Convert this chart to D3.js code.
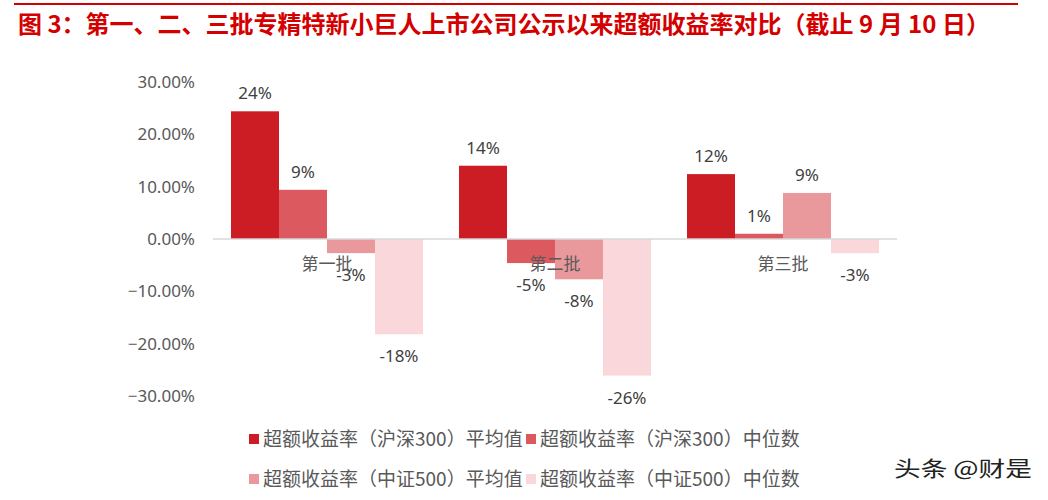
<!DOCTYPE html>
<html>
<head>
<meta charset="utf-8">
<script src="https://cdn.jsdelivr.net/npm/d3@7"></script>
<style>
  body { margin: 0; background: #fff; }
  svg { display: block; }
</style>
</head>
<body>
<svg id="chart" width="1048" height="500"></svg>
<script>
// batches and series
const batches = ['第一批', '第二批', '第三批']
const series = [
    '超额收益率（沪深300）平均值',
    '超额收益率（沪深300）中位数',
    '超额收益率（中证500）平均值',
    '超额收益率（中证500）中位数'
]
// values in %, one array per series (batch order)
const hs300_mean = [24.4, 14.0, 12.4]
const hs300_median = [9.4, -4.6, 1.0]
const zz500_mean = [-2.7, -7.7, 8.8]
const zz500_median = [-18.2, -26.1, -2.7]
const y_ticks = [30, 20, 10, 0, -10, -20, -30]

const colors = ['#cc1d24', '#dc5a5f', '#e9999b', '#fad7da']
const title = '图 3：第一、二、三批专精特新小巨人上市公司公示以来超额收益率对比（截止 9 月 10 日）'

const all_series = [hs300_mean, hs300_median, zz500_mean, zz500_median]
const svg = d3.select('#chart')
const font = '"Noto Sans", "Noto Sans CJK SC", sans-serif'
const cjk = '"Noto Sans CJK SC", sans-serif'

// header
svg.append('line')
    .attr('x1', 14).attr('x2', 1018).attr('y1', 4).attr('y2', 4)
    .attr('stroke', '#d00000').attr('stroke-width', 2)
svg.append('text')
    .attr('x', 18).attr('y', 33)
    .attr('font-family', cjk)
    .attr('font-size', 24).attr('font-weight', 'bold')
    .attr('fill', '#d40000')
    .text(title)

const x0 = d3.scaleBand().domain(batches).range([213, 897])
    .paddingInner(0.158).paddingOuter(0.079)
const x1 = d3.scaleBand().domain(d3.range(series.length)).range([0, x0.bandwidth()])
const y = d3.scaleLinear().domain([-30, 30]).range([396, 82])

// y axis labels (no axis line)
const yAxis = d3.axisLeft(y).tickValues(y_ticks).tickSize(0).tickPadding(0)
    .tickFormat(d => d3.format('.2f')(d) + '%')
const yg = svg.append('g').attr('transform', 'translate(195,0)').call(yAxis)
yg.select('.domain').remove()
yg.selectAll('text')
    .attr('font-family', font).attr('font-size', 17).attr('fill', '#595959')

// bars
const rows = batches.map((b, bi) => all_series.map((s, si) => ({ batch: b, si, v: s[bi] })))
const groups = svg.append('g').selectAll('g').data(rows).enter().append('g')
    .attr('transform', (d, i) => 'translate(' + x0(batches[i]) + ',0)')

groups.selectAll('rect').data(d => d).enter().append('rect')
    .attr('x', d => x1(d.si))
    .attr('width', x1.bandwidth())
    .attr('y', d => y(Math.max(0, d.v)))
    .attr('height', d => Math.abs(y(d.v) - y(0)))
    .attr('fill', d => colors[d.si])

// zero line
svg.append('line')
    .attr('x1', 213).attr('x2', 897).attr('y1', y(0)).attr('y2', y(0))
    .attr('stroke', '#d9d9d9').attr('stroke-width', 1.5)

// category labels
svg.append('g').selectAll('text').data(batches).enter().append('text')
    .attr('x', d => x0(d) + x0.bandwidth() / 2)
    .attr('y', y(0) + 31)
    .attr('text-anchor', 'middle')
    .attr('font-family', cjk)
    .attr('font-size', 17).attr('fill', '#595959')
    .text(d => d)

// value labels
groups.selectAll('text.val').data(d => d).enter().append('text')
    .attr('class', 'val')
    .attr('x', d => x1(d.si) + x1.bandwidth() / 2)
    .attr('y', d => d.v >= 0 ? y(d.v) - 12 : y(d.v) + 28)
    .attr('text-anchor', 'middle')
    .attr('font-family', font).attr('font-size', 17).attr('fill', '#404040')
    .text(d => Math.round(d.v) + '%')

// legend
const legend_pos = [[249, 439], [526, 439], [249, 479], [526, 479]]
const lg = svg.append('g').selectAll('g').data(series).enter().append('g')
    .attr('transform', (d, i) => 'translate(' + legend_pos[i][0] + ',' + legend_pos[i][1] + ')')
lg.append('rect').attr('x', 0).attr('y', -5).attr('width', 10).attr('height', 10)
    .attr('fill', (d, i) => colors[i])
lg.append('text').attr('x', 14).attr('y', 6.5)
    .attr('font-family', cjk)
    .attr('font-size', 19).attr('fill', '#595959')
    .text(d => d)

// watermark
svg.append('text')
    .attr('x', 894).attr('y', 476)
    .attr('font-family', cjk)
    .attr('font-size', 21).attr('fill', '#222')
    .attr('textLength', 138).attr('lengthAdjust', 'spacingAndGlyphs')
    .attr('stroke', '#fff').attr('stroke-width', 0.5).attr('paint-order', 'stroke')
    .text('头条 @财是')
</script>
</body>
</html>
